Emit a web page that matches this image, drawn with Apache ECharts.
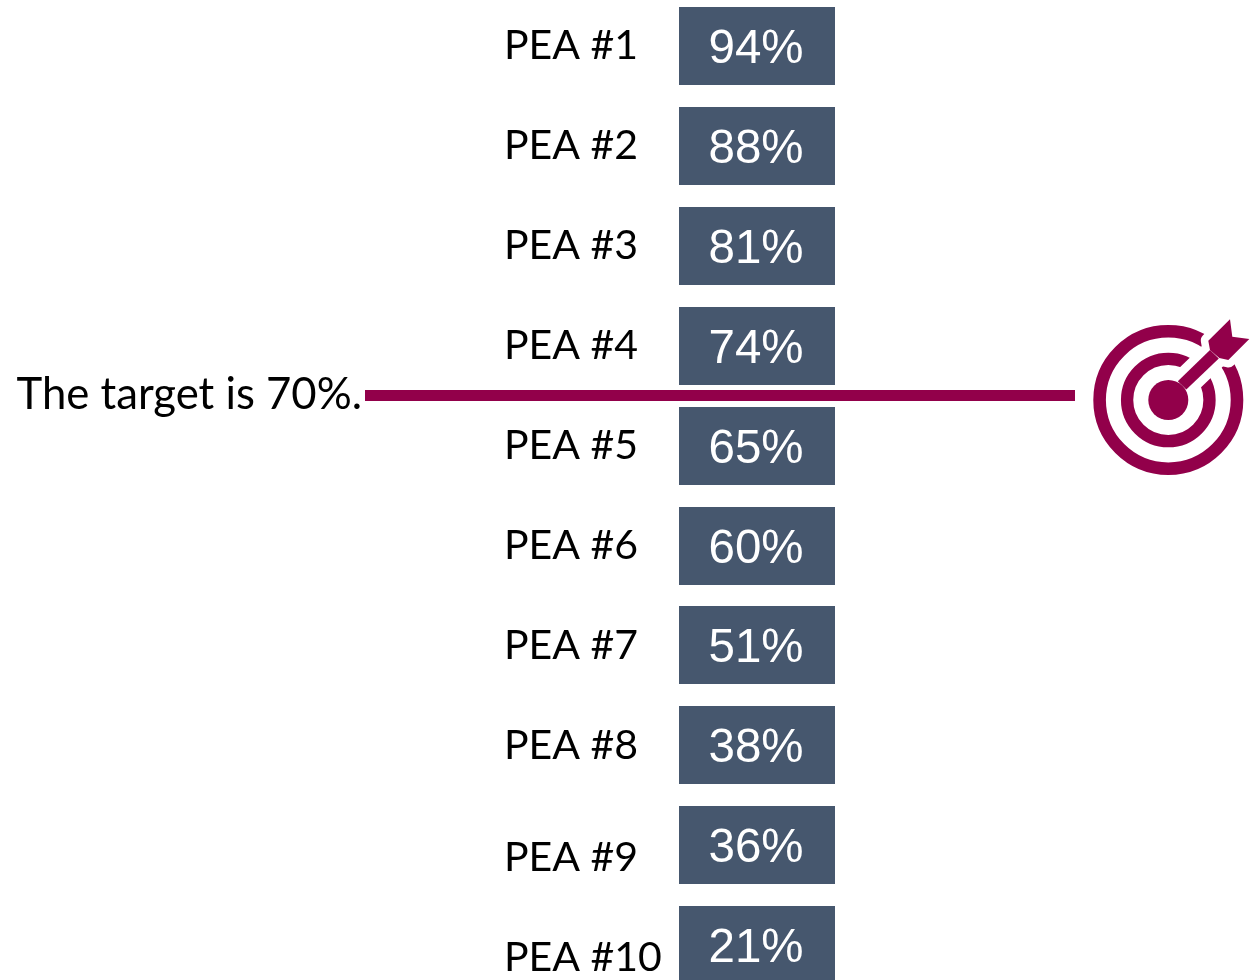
<!DOCTYPE html>
<html>
<head>
<meta charset="utf-8">
<style>html,body{margin:0;padding:0;background:#fff}#c{width:1260px;height:980px}</style>
<script src="https://cdn.jsdelivr.net/npm/echarts@6/dist/echarts.min.js"></script>
</head>
<body>
<div id="c"></div>
<script>
const categories = ['PEA #1','PEA #2','PEA #3','PEA #4','PEA #5','PEA #6','PEA #7','PEA #8','PEA #9','PEA #10'];
const scores = [94,88,81,74,65,60,51,38,36,21];
const targetValue = 70;
const targetText = 'The target is 70%.';

const LABEL_FONT = 'Lato, "Noto Sans", sans-serif';
const VALUE_FONT = '"Liberation Sans", Arial, sans-serif';
const BOX = '#46576E';
const MAROON = '#92004A';

const chart = echarts.init(document.getElementById('c'), null, {renderer:'canvas'});

// Position of the target line: between the last score above target and the first below it.
const lastAbove = scores.reduce((acc, v, i) => v >= targetValue ? i : acc, 0);

const shaft = [[9.5,-18.8],[18,-10.5],[50.5,-41.5],[41.7,-50]];
const fletch = [[61.7,-80.7],[64,-63.3],[81,-61],[60,-40],[51,-42],[41.7,-50],[40,-59.3]];

chart.setOption({
  animation:false,
  backgroundColor:'#fff',
  grid:{left:679,width:156,top:-3.9,height:999,containLabel:false,outerBoundsMode:'none'},
  xAxis:{type:'value',min:0,max:1,show:false},
  yAxis:{
    type:'category',inverse:true,data:categories,
    axisLine:{show:false},axisTick:{show:false},splitLine:{show:false},
    axisLabel:{
      show:true,interval:0,align:'left',margin:175,hideOverlap:false,
      fontFamily:LABEL_FONT,fontSize:41,color:'#000',
      formatter:(v,i)=> i>=8 ? '{low|'+v+'}' : '{up|'+v+'}',
      rich:{
        up:{fontFamily:LABEL_FONT,fontSize:41,color:'#000'},
        low:{fontFamily:LABEL_FONT,fontSize:41,color:'#000',padding:[26,0,0,0]}
      }
    }
  },
  series:[
    {
      type:'custom',name:'Score',coordinateSystem:'cartesian2d',clip:false,
      encode:{x:0,y:1},
      data:scores.map((v,i)=>[0,i,v]),
      renderItem:(params,api)=>{
        const p=api.coord([0,api.value(1)]);
        const band=api.size([0,1])[1];
        const w=api.size([1,0])[0];
        const h=band*0.78;
        const top=Math.round(p[1]-h/2);
        return {type:'group',children:[
          {type:'rect',shape:{x:p[0],y:top,width:w,height:Math.round(h)},style:{fill:BOX}},
          {type:'text',style:{text:api.value(2)+'%',x:p[0]+w/2-1,y:top+43,align:'center',verticalAlign:'middle',
            fill:'#fff',font:'47.5px '+VALUE_FONT}}
        ]};
      }
    },
    {
      type:'custom',name:'Target',coordinateSystem:'cartesian2d',clip:false,z:5,
      encode:{x:0,y:1},
      data:[[0,lastAbove,targetValue]],
      renderItem:(params,api)=>{
        const a=api.coord([0,api.value(1)]);
        const b=api.coord([0,api.value(1)+1]);
        const y=(a[1]+b[1])/2;
        return {type:'group',children:[
          {type:'rect',shape:{x:365,y:Math.round(y)-6,width:710,height:11},style:{fill:MAROON}},
          {type:'text',style:{text:targetText,x:362,y:y-1,align:'right',verticalAlign:'middle',
            fill:'#000',font:'43.7px '+LABEL_FONT}}
        ]};
      }
    }
  ],
  graphic:[{
    type:'group',x:1168.3,y:400,silent:true,
    children:[
      {type:'circle',shape:{cx:0,cy:0,r:68.7},style:{fill:'none',stroke:MAROON,lineWidth:12.6}},
      {type:'circle',shape:{cx:0,cy:0,r:41.2},style:{fill:'none',stroke:MAROON,lineWidth:12.3}},
      {type:'polygon',shape:{points:shaft},style:{fill:'#fff',stroke:'#fff',lineWidth:17,lineJoin:'round'}},
      {type:'polygon',shape:{points:fletch},style:{fill:'#fff',stroke:'#fff',lineWidth:15,lineJoin:'round'}},
      {type:'circle',shape:{cx:0,cy:0,r:20},style:{fill:MAROON}},
      {type:'polygon',shape:{points:shaft},style:{fill:MAROON}},
      {type:'polygon',shape:{points:fletch},style:{fill:MAROON}}
    ]
  }]
});
</script>
</body>
</html>
